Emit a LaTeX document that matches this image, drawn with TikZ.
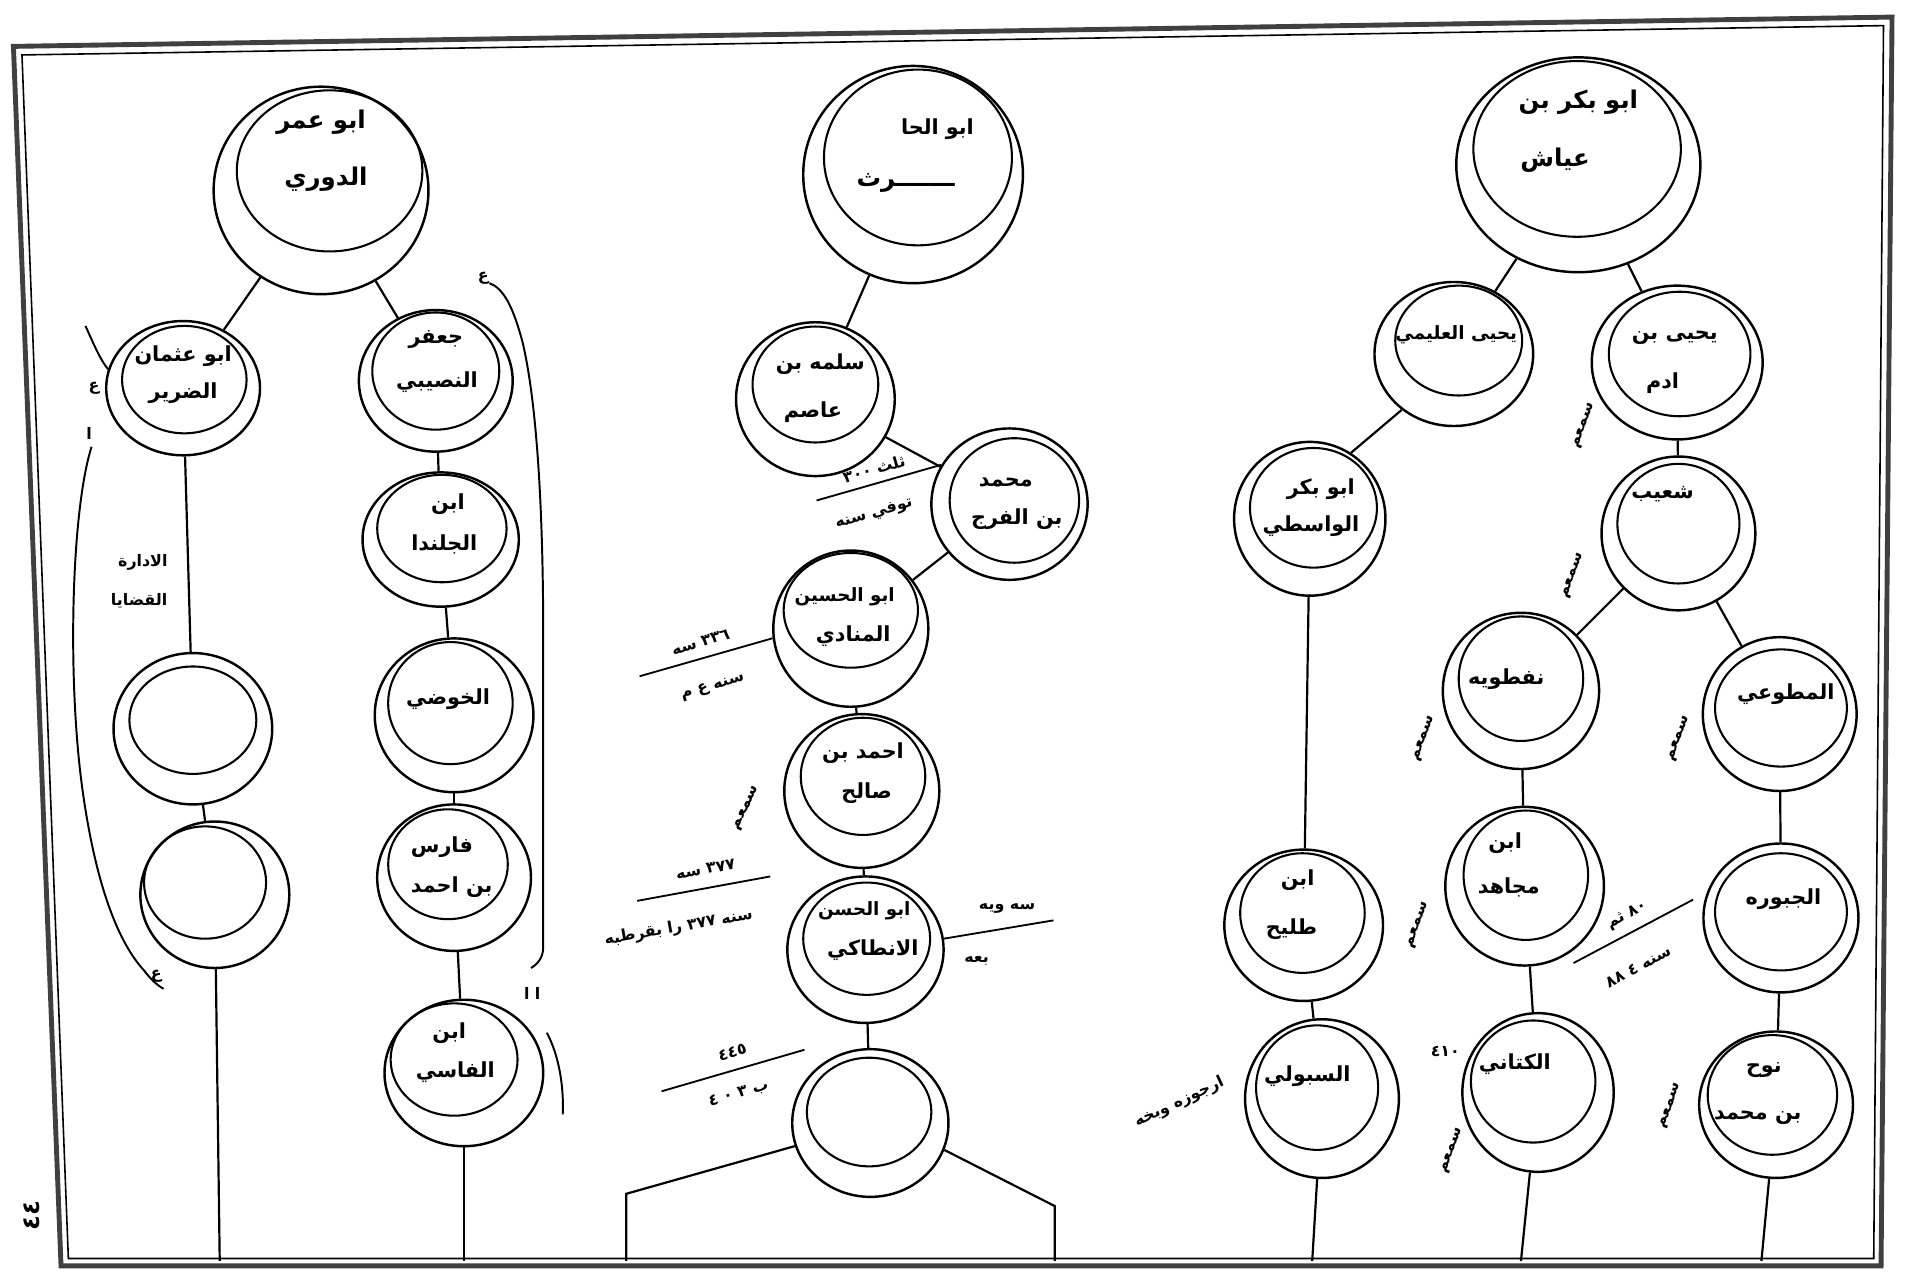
\documentclass[tikz,border=0pt]{standalone}
\usepackage{fontspec}
\usetikzlibrary{shapes.geometric}
\newfontfamily\arf[Script=Arabic]{DejaVu Sans}
\TeXXeTstate=1
\tikzset{
 moonout/.style={draw, ellipse, inner sep=0pt, line width=2pt},
 moonin/.style={draw, ellipse, inner sep=0pt, line width=1.7pt},
 link/.style={line width=1.8pt},
 frameo/.style={line width=4pt, black!75},
 framei/.style={line width=1.3pt},
 nametxt/.style={font=\arf\bfseries\fontsize{17}{19}\selectfont, inner sep=0pt},
 smalltxt/.style={font=\arf\bfseries\fontsize{15}{17}\selectfont, inner sep=0pt},
 bigtxt/.style={font=\arf\bfseries\fontsize{20}{22}\selectfont, inner sep=0pt},
 notetxt/.style={font=\arf\bfseries\fontsize{13}{15}\selectfont, inner sep=0pt},
 bracket/.style={line width=1.6pt},
 ruleline/.style={line width=1.5pt},
}
\newcommand\moon[9]{%
 \node[moonout, minimum width=#4pt, minimum height=#5pt] (#1) at (#2,#3) {};
 \node[moonin, minimum width=#8pt, minimum height=#9pt] (#1i) at (#6,#7) {};}
\begin{document}
\begin{tikzpicture}[x=1pt,y=-1pt]
\useasboundingbox (0,0) rectangle (1568,1043);
\fill[white] (0,0) rectangle (1568,1043);
% frame
\coordinate (TL) at (11,38); \coordinate (TR) at (1550,14);
\coordinate (BR) at (1541,1037); \coordinate (BL) at (50,1037);
\coordinate (TL2) at (18,45); \coordinate (TR2) at (1543,21);
\coordinate (BR2) at (1535,1031); \coordinate (BL2) at (56,1031);
\draw[frameo] (TL) -- (TR) -- (BR) -- (BL) -- cycle;
\draw[framei] (TL2) -- (TR2) -- (BR2) -- (BL2) -- cycle;

% ---------------- left tree
\moon{A}{263}{156}{176}{170}{270}{140}{152}{132}
\moon{B}{150}{318}{126}{110}{151}{311}{102}{88}
\moon{C}{357}{312}{126}{116}{357}{304}{104}{96}
\moon{F}{361}{442}{128}{110}{362}{433}{106}{88}
\moon{G}{372}{586}{130}{126}{369}{576}{102}{100}
\moon{H}{372}{719}{126}{120}{367}{708}{98}{90}
\moon{I}{380}{879}{130}{120}{372}{868}{104}{92}
\moon{D}{158}{597}{130}{124}{158}{590}{104}{88}
\moon{E}{176}{733}{122}{120}{168}{723}{100}{92}
\coordinate (Eb) at (180,1033);
\coordinate (Ib) at (380,1033);
\draw[link] (A) -- (B);
\draw[link] (A) -- (C);
\draw[link] (B) -- (D);
\draw[link] (D) -- (E);
\draw[link] (E) -- (Eb);
\draw[link] (C) -- (F);
\draw[link] (F) -- (G);
\draw[link] (G) -- (H);
\draw[link] (H) -- (I);
\draw[link] (I) -- (Ib);
\node[bigtxt] (A1) at (263,100) {\beginR ابو عمر\endR};
\node[bigtxt] (A2) at (267,147) {\beginR الدوري\endR};
\node[nametxt] (B1) at (150,292) {\beginR ابو عثمان\endR};
\node[nametxt] (B2) at (150,322) {\beginR الضرير\endR};
\node[nametxt] (C1) at (357,278) {\beginR جعفر\endR};
\node[nametxt] (C2) at (358,313) {\beginR النصيبي\endR};
\node[nametxt] (F1) at (367,413) {\beginR ابن\endR};
\node[nametxt] (F2) at (364,446) {\beginR الجلندا\endR};
\node[nametxt] (G1) at (367,573) {\beginR الخوضي\endR};
\node[nametxt] (H1) at (362,694) {\beginR فارس\endR};
\node[nametxt] (H2) at (370,727) {\beginR بن احمد\endR};
\node[nametxt] (I1) at (368,846) {\beginR ابن\endR};
\node[nametxt] (I2) at (373,878) {\beginR الفاسي\endR};
\node[notetxt] (BD1) at (117,461) {\beginR الادارة\endR};
\node[notetxt] (BD2) at (114,492) {\beginR القضايا\endR};
% brackets
\draw[bracket] (70,267) .. controls (76,280) and (82,295) .. (89,303);
\draw[bracket] (75,366) .. controls (58,420) and (55,560) .. (68,650)
   .. controls (78,720) and (95,770) .. (118,795)
   .. controls (124,803) and (130,808) .. (134,810);
\draw[bracket] (401,232) .. controls (412,236) and (420,250) .. (428,280)
   .. controls (440,330) and (445,420) .. (445,520) -- (445,776)
   .. controls (445,785) and (440,790) .. (435,793);
\draw[bracket] (448,846) .. controls (458,865) and (462,890) .. (461,913);
\node[notetxt] (lb1) at (77,318) {\beginR ع\endR};
\node[notetxt] (lb2) at (73,355) {\beginR ا\endR};
\node[notetxt] (lb3) at (128,800) {\beginR ع\endR};
\node[notetxt] (rb1) at (396,228) {\beginR ع\endR};
\node[notetxt] (rb2) at (436,814) {\beginR ا ا\endR};
\node[bigtxt, rotate=90] (corner) at (26,996) {\beginR ٤٤\endR};

% ---------------- middle tree
\moon{J}{748}{143}{180}{178}{752}{129}{154}{144}
\moon{K}{668}{327}{130}{126}{668}{315}{103}{95}
\moon{L}{827}{413}{128}{124}{831}{410}{106}{102}
\moon{M}{697}{515}{127}{128}{697}{500}{110}{94}
\moon{N}{706}{648}{127}{126}{707}{636}{102}{96}
\moon{O}{709}{778}{128}{120}{710}{769}{104}{92}
\moon{P}{713}{920}{128}{121}{712}{911}{102}{89}
\draw[link] (J) -- (K);
\draw[link] (K) -- (L);
\draw[link] (L) -- (M);
\draw[link] (M) -- (N);
\draw[link] (N) -- (O);
\draw[link] (O) -- (P);
\coordinate (Pl1) at (513,978); \coordinate (Pl2) at (513,1033);
\coordinate (Pr1) at (864,988); \coordinate (Pr2) at (864,1033);
\draw[link] (P.197) -- (Pl1) -- (Pl2);
\draw[link] (P.340) -- (Pr1) -- (Pr2);
\node[nametxt] (J1) at (768,106) {\beginR ابو الحا\endR};
\node[bigtxt] (J2) at (742,150) {\beginR ـــــــرث\endR};
\node[nametxt] (K1) at (672,298) {\beginR سلمه بن\endR};
\node[nametxt] (K2) at (666,338) {\beginR عاصم\endR};
\node[nametxt] (L1) at (824,395) {\beginR محمد\endR};
\node[nametxt] (L2) at (833,425) {\beginR بن الفرج\endR};
\node[smalltxt] (M1) at (692,489) {\beginR ابو الحسين\endR};
\node[nametxt] (M2) at (699,521) {\beginR المنادي\endR};
\node[nametxt] (N1) at (707,617) {\beginR احمد بن\endR};
\node[nametxt] (N2) at (710,650) {\beginR صالح\endR};
\node[smalltxt] (O1) at (708,746) {\beginR ابو الحسن\endR};
\node[nametxt] (O2) at (715,778) {\beginR الانطاكي\endR};
% notes of the middle tree
\coordinate (Lla) at (669,410);
\draw[ruleline] (Lla) -- (L.150);
\node[notetxt, rotate=16] (Ln1) at (716,384) {\beginR ثلث ٣٠٠\endR};
\node[notetxt, rotate=16] (Ln2) at (716,421) {\beginR توفي سنه\endR};
\coordinate (Mla) at (524,554);
\draw[ruleline] (Mla) -- (M.187);
\node[notetxt, rotate=16] (Mn1) at (574,526) {\beginR ٣٣٦ سه\endR};
\node[notetxt, rotate=16] (Mn2) at (584,563) {\beginR سنه ع م\endR};
\node[notetxt, rotate=65] (Nn1) at (612,662) {\beginR سمعم\endR};
\coordinate (Ola) at (522,738); \coordinate (Olb) at (631,718);
\draw[ruleline] (Ola) -- (Olb);
\node[notetxt, rotate=10] (On1) at (578,712) {\beginR ٣٧٧ سه\endR};
\node[notetxt, rotate=10] (On2) at (556,760) {\beginR سنه ٣٧٧ را بقرطبه\endR};
\coordinate (Orb) at (863,754);
\draw[ruleline] (O.8) -- (Orb);
\node[notetxt] (On3) at (825,744) {\beginR سه ويه\endR};
\node[notetxt] (On4) at (800,787) {\beginR بعه\endR};
\coordinate (Pla) at (542,894); \coordinate (Plb) at (659,860);
\draw[ruleline] (Pla) -- (Plb);
\node[notetxt, rotate=16] (Pn1) at (600,862) {\beginR ٤٤٥\endR};
\node[notetxt, rotate=16] (Pn2) at (605,896) {\beginR ب ٣ ٠ ٤\endR};

% ---------------- right tree
\moon{R1}{1293}{135}{200}{176}{1292}{122}{170}{144}
\moon{R2}{1191}{290}{130}{118}{1195}{279}{104}{90}
\moon{R3}{1374}{297}{140}{126}{1376}{290}{116}{102}
\moon{R4}{1375}{437}{126}{126}{1375}{429}{100}{98}
\moon{R5}{1246}{566}{128}{128}{1246}{556}{102}{102}
\moon{R6}{1458}{585}{126}{126}{1459}{580}{108}{96}
\moon{R7}{1073}{425}{124}{126}{1076}{416}{104}{98}
\moon{R8}{1068}{758}{130}{124}{1067}{748}{102}{98}
\moon{R9}{1083}{900}{126}{130}{1079}{891}{100}{102}
\moon{R10}{1249}{726}{130}{130}{1250}{717}{102}{106}
\moon{R11}{1260}{895}{124}{130}{1256}{886}{102}{100}
\moon{R12}{1459}{752}{127}{122}{1459}{747}{108}{96}
\moon{R13}{1455}{905}{126}{120}{1452}{897}{106}{98}
\coordinate (R9b) at (1075,1033);
\coordinate (R11b) at (1246,1033);
\coordinate (R13b) at (1443,1033);
\draw[link] (R1) -- (R2);
\draw[link] (R1) -- (R3);
\draw[link] (R3) -- (R4);
\draw[link] (R4) -- (R5);
\draw[link] (R4) -- (R6);
\draw[link] (R2.227) -- (R7.58);
\draw[link] (R7) -- (R8);
\draw[link] (R8) -- (R9);
\draw[link] (R9) -- (R9b);
\draw[link] (R5) -- (R10);
\draw[link] (R10) -- (R11);
\draw[link] (R11) -- (R11b);
\draw[link] (R6) -- (R12);
\draw[link] (R12) -- (R13);
\draw[link] (R13) -- (R13b);
\node[bigtxt] (R1a) at (1293,84) {\beginR ابو بكر بن\endR};
\node[bigtxt] (R1b) at (1274,131) {\beginR عياش\endR};
\node[smalltxt] (R2a) at (1193,274) {\beginR يحيى العليمي\endR};
\node[nametxt] (R3a) at (1372,277) {\beginR يحيى بن\endR};
\node[nametxt] (R3b) at (1362,314) {\beginR ادم\endR};
\node[nametxt] (R4a) at (1362,405) {\beginR شعيب\endR};
\node[nametxt] (R5a) at (1234,556) {\beginR نفطويه\endR};
\node[nametxt] (R6a) at (1463,569) {\beginR المطوعي\endR};
\node[nametxt] (R7a) at (1082,401) {\beginR ابو بكر\endR};
\node[nametxt] (R7b) at (1074,431) {\beginR الواسطي\endR};
\node[nametxt] (R8a) at (1063,721) {\beginR ابن\endR};
\node[nametxt] (R8b) at (1058,761) {\beginR طليح\endR};
\node[nametxt] (R9a) at (1071,882) {\beginR السبولي\endR};
\node[nametxt] (R10a) at (1233,691) {\beginR ابن\endR};
\node[nametxt] (R10b) at (1236,727) {\beginR مجاهد\endR};
\node[nametxt] (R11a) at (1241,872) {\beginR الكتاني\endR};
\node[nametxt] (R12a) at (1461,737) {\beginR الجبوره\endR};
\node[nametxt] (R13a) at (1445,877) {\beginR نوح\endR};
\node[nametxt] (R13c) at (1440,916) {\beginR بن محمد\endR};
% notes of the right tree
\node[notetxt, rotate=70] (s3) at (1298,349) {\beginR سمعم\endR};
\node[notetxt, rotate=70] (s4) at (1289,472) {\beginR سمعم\endR};
\node[notetxt, rotate=70] (s5) at (1167,605) {\beginR سمعم\endR};
\node[notetxt, rotate=70] (s10) at (1162,758) {\beginR سمعم\endR};
\node[notetxt, rotate=70] (s11) at (1190,943) {\beginR سمعم\endR};
\node[notetxt, rotate=70] (s6) at (1376,605) {\beginR سمعم\endR};
\node[notetxt, rotate=70] (s13) at (1369,906) {\beginR سمعم\endR};
\node[notetxt] (n11) at (1184,861) {\beginR ٤١٠\endR};
\node[notetxt, rotate=25] (n9) at (966,903) {\beginR ارجوزه وبخه\endR};
\coordinate (R12la) at (1289,789); \coordinate (R12lb) at (1387,737);
\draw[ruleline] (R12la) -- (R12lb);
\node[notetxt, rotate=28] (n12a) at (1333,750) {\beginR ٨٠ ثم\endR};
\node[notetxt, rotate=28] (n12b) at (1342,792) {\beginR سنه ٤ ٨٨\endR};
\end{tikzpicture}
\end{document}
